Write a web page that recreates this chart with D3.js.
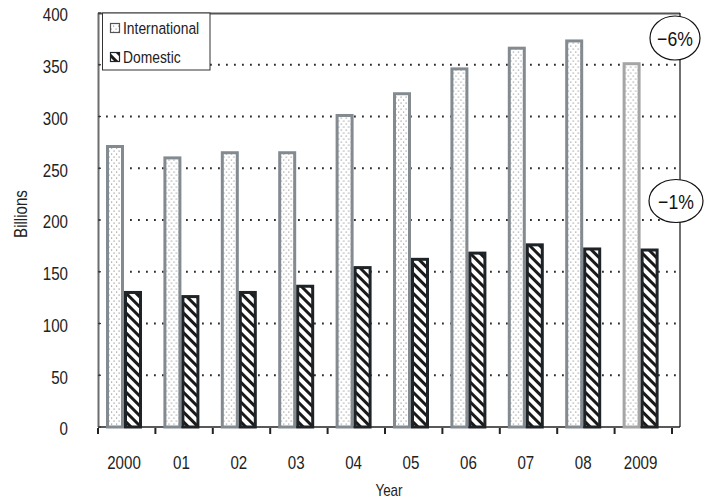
<!DOCTYPE html>
<html><head><meta charset="utf-8">
<script src="https://cdn.jsdelivr.net/npm/d3@7"></script>
<style>body{margin:0;background:#fff} svg{display:block}</style>
</head><body><svg id="c" width="705" height="500"></svg>
<script>
const years = ["2000","01","02","03","04","05","06","07","08","2009"];
const international = [271,260,265,265,301,322,346,366,373,351];
const domestic = [130,126,130,136,154,162,168,176,172,171];
const seriesNames = ["International","Domestic"];
const yTicks = [0,50,100,150,200,250,300,350,400];
const changeLabels = ["\u22126%","\u22121%"];
const yTitle = "Billions";
const xTitle = "Year";

(function () {
const svg = d3.select("#c");
const F = "'Liberation Sans', Arial, sans-serif";
const SX = 0.84;
const pL = 98, pR = 680, pT = 13, pB = 427, bandEnd = 672;
const y = d3.scaleLinear().domain([0, 400]).range([pB, pT]);
const x0 = d3.scaleBand().domain(years).range([pL, bandEnd]).padding(0);
const x1 = d3.scaleBand().domain(seriesNames).range([8, 44]).padding(0);

// patterns
const defs = svg.append("defs");
const dots = defs.append("pattern").attr("id", "dots").attr("patternUnits", "userSpaceOnUse")
  .attr("width", 5).attr("height", 6);
dots.append("rect").attr("width", 5).attr("height", 6).attr("fill", "#fff");
dots.append("rect").attr("x", 0.5).attr("y", 0.5).attr("width", 1.2).attr("height", 1.2).attr("fill", "#9a9a9a");
dots.append("rect").attr("x", 3).attr("y", 3.5).attr("width", 1.2).attr("height", 1.2).attr("fill", "#9a9a9a");

const hatch = defs.append("pattern").attr("id", "hatch").attr("patternUnits", "userSpaceOnUse")
  .attr("width", 7).attr("height", 7).attr("patternTransform", "rotate(-45)");
hatch.append("rect").attr("width", 7).attr("height", 7).attr("fill", "#fff");
hatch.append("rect").attr("x", 0).attr("width", 3).attr("height", 7).attr("fill", "#1a1a1a");

// gridlines
svg.append("g").selectAll("line").data(yTicks.filter(v => v > 0 && v < 400)).join("line")
  .attr("x1", pL).attr("x2", pR).attr("y1", d => y(d)).attr("y2", d => y(d))
  .attr("stroke", "#2a2a2a").attr("stroke-width", 1.8).attr("stroke-dasharray", "1.8,6.2");

// bottom axis line
svg.append("line").attr("x1", pL).attr("x2", pR).attr("y1", pB).attr("y2", pB)
  .attr("stroke", "#222").attr("stroke-width", 1.5);

// bars
const rows = years.map((yr, i) => ({ year: yr, values: [
  { key: "International", v: international[i] },
  { key: "Domestic", v: domestic[i] }] }));
const g = svg.append("g").selectAll("g").data(rows).join("g")
  .attr("transform", d => `translate(${x0(d.year)},0)`);
g.selectAll("rect").data(d => d.values.map(v => ({ ...v, year: d.year }))).join("rect")
  .attr("x", d => x1(d.key) + 1.5)
  .attr("width", x1.bandwidth() - 3)
  .attr("y", d => y(d.v))
  .attr("height", d => y(0) - y(d.v))
  .attr("fill", d => d.key === "International" ? "url(#dots)" : "url(#hatch)")
  .attr("stroke", d => d.key === "International" ? (d.year === "2009" ? "#a5a5a5" : "#838b91") : "#1e2327")
  .attr("stroke-width", 3);

// frame
svg.append("line").attr("x1", pL + 0.5).attr("x2", pL + 0.5).attr("y1", pT).attr("y2", pB)
  .attr("stroke", "#6d6d6d").attr("stroke-width", 2);
svg.append("line").attr("x1", pL).attr("x2", pR).attr("y1", pT + 0.5).attr("y2", pT + 0.5)
  .attr("stroke", "#555").attr("stroke-width", 2);
svg.append("line").attr("x1", pR).attr("x2", pR).attr("y1", pT).attr("y2", pB)
  .attr("stroke", "#111").attr("stroke-width", 1.2);

// y ticks (inward)
svg.append("g").selectAll("line").data(yTicks).join("line")
  .attr("x1", pL).attr("x2", pL + 3).attr("y1", d => y(d)).attr("y2", d => y(d))
  .attr("stroke", "#333").attr("stroke-width", 1.2);

// y labels
svg.append("g").selectAll("text").data(yTicks).join("text")
  .attr("transform", d => `translate(68,${y(d) + 2}) scale(${SX},1)`)
  .attr("text-anchor", "end").attr("dy", "0.35em")
  .attr("font-family", F).attr("font-size", 18).attr("fill", "#222")
  .text(d => d);

// x ticks at category boundaries
const xTickPos = years.map(yr => x0(yr)).concat([x0.range()[1]]);
svg.append("g").selectAll("line").data(xTickPos).join("line")
  .attr("x1", d => d).attr("x2", d => d).attr("y1", pB + 1).attr("y2", pB + 7)
  .attr("stroke", "#222").attr("stroke-width", 2);

// x labels
svg.append("g").selectAll("text").data(years).join("text")
  .attr("transform", d => `translate(${x0(d) + x1("Domestic")},463) scale(${SX},1)`)
  .attr("text-anchor", "middle").attr("dy", "0.35em")
  .attr("font-family", F).attr("font-size", 18).attr("fill", "#222")
  .text(d => d);

// axis titles
svg.append("text").attr("transform", `translate(21,214) rotate(-90) scale(${SX},1)`)
  .attr("text-anchor", "middle").attr("dy", "0.35em")
  .attr("font-family", F).attr("font-size", 18).attr("fill", "#222").text(yTitle);
svg.append("text").attr("transform", `translate(${(pL + pR) / 2},490) scale(${SX},1)`)
  .attr("text-anchor", "middle").attr("dy", "0.35em")
  .attr("font-family", F).attr("font-size", 16).attr("fill", "#222").text(xTitle);

// legend
const lg = svg.append("g");
lg.append("rect").attr("x", 102.5).attr("y", pT).attr("width", 107.5).attr("height", 57)
  .attr("fill", "#fff").attr("stroke", "#333").attr("stroke-width", 1);
const li = lg.selectAll("g").data(seriesNames).join("g")
  .attr("transform", (d, i) => `translate(110,${28 + i * 29})`);
li.append("rect").attr("x", 0.5).attr("y", -4.5).attr("width", 9).attr("height", 9)
  .attr("fill", d => d === "International" ? "url(#dots)" : "url(#hatch)")
  .attr("stroke", d => d === "International" ? "#555" : "#1e2327").attr("stroke-width", 1.2);
li.append("text").attr("transform", `translate(13,0) scale(${SX},1)`).attr("dy", "0.35em")
  .attr("font-family", F).attr("font-size", 16.5).attr("fill", "#222").text(d => d);

// change annotations
const ann = [{ t: changeLabels[0], cx: 675, cy: 38, rx: 25, ry: 22 },
             { t: changeLabels[1], cx: 676, cy: 201, rx: 27, ry: 21.5 }];
const ag = svg.append("g").selectAll("g").data(ann).join("g");
ag.append("ellipse").attr("cx", d => d.cx).attr("cy", d => d.cy).attr("rx", d => d.rx).attr("ry", d => d.ry)
  .attr("fill", "#fff").attr("stroke", "#111").attr("stroke-width", 1.2);
ag.append("text").attr("transform", d => `translate(${d.cx},${d.cy}) scale(${SX},1)`)
  .attr("text-anchor", "middle").attr("dy", "0.36em")
  .attr("font-family", F).attr("font-size", 21).attr("fill", "#111").text(d => d.t);
})();
</script></body></html>
